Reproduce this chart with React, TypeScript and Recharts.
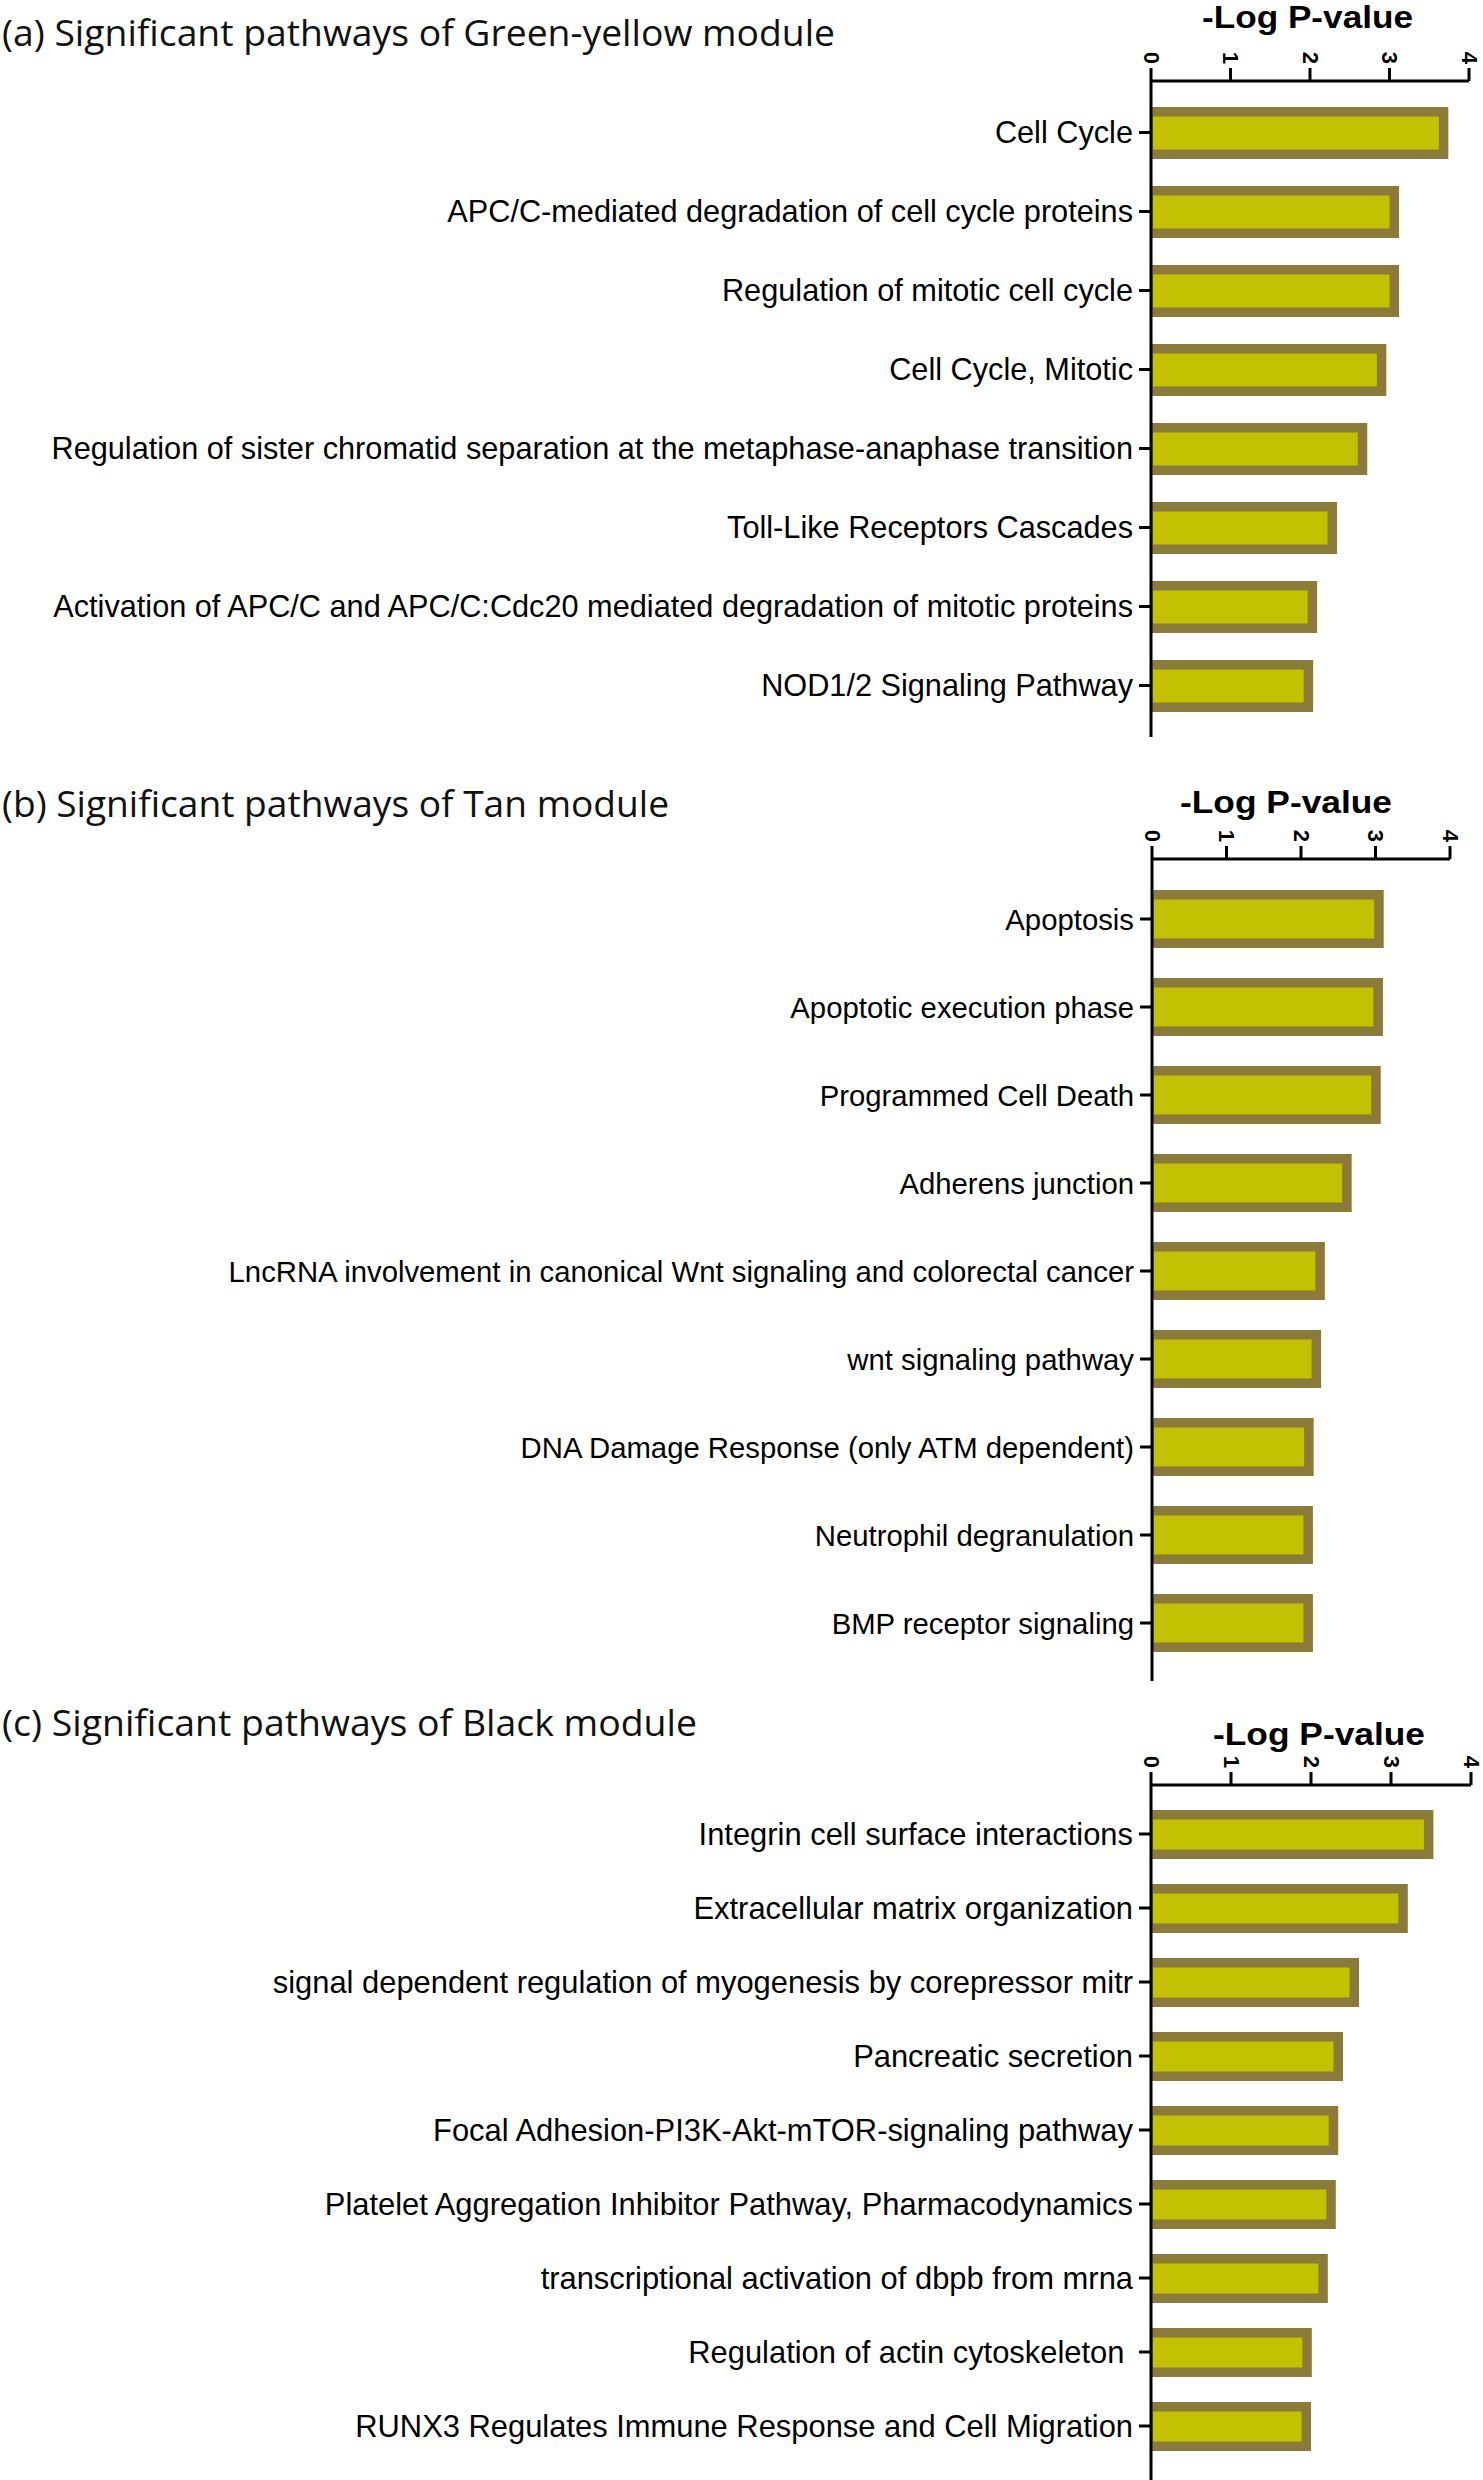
import { BarChart, Bar, XAxis, YAxis } from 'recharts';

const TICKS = [0, 1, 2, 3, 4];

const CATS_A = [
  'Cell Cycle',
  'APC/C-mediated degradation of cell cycle proteins',
  'Regulation of mitotic cell cycle',
  'Cell Cycle, Mitotic',
  'Regulation of sister chromatid separation at the metaphase-anaphase transition',
  'Toll-Like Receptors Cascades',
  'Activation of APC/C and APC/C:Cdc20 mediated degradation of mitotic proteins',
  'NOD1/2 Signaling Pathway',
];
const VALS_A = [3.74, 3.12, 3.12, 2.96, 2.72, 2.34, 2.09, 2.04];

const CATS_B = [
  'Apoptosis',
  'Apoptotic execution phase',
  'Programmed Cell Death',
  'Adherens junction',
  'LncRNA involvement in canonical Wnt signaling and colorectal cancer',
  'wnt signaling pathway',
  'DNA Damage Response (only ATM dependent)',
  'Neutrophil degranulation',
  'BMP receptor signaling',
];
const VALS_B = [3.11, 3.1, 3.07, 2.68, 2.32, 2.27, 2.17, 2.16, 2.16];

const CATS_C = [
  'Integrin cell surface interactions',
  'Extracellular matrix organization',
  'signal dependent regulation of myogenesis by corepressor mitr',
  'Pancreatic secretion',
  'Focal Adhesion-PI3K-Akt-mTOR-signaling pathway',
  'Platelet Aggregation Inhibitor Pathway, Pharmacodynamics',
  'transcriptional activation of dbpb from mrna',
  'Regulation of actin cytoskeleton\u00a0',
  'RUNX3 Regulates Immune Response and Cell Migration',
];
const VALS_C = [3.53, 3.21, 2.6, 2.4, 2.34, 2.31, 2.21, 2.01, 2.0];

const BORDER = '#8b7a3a';
const FILL = '#c3c200';
const LABEL_FONT = '"Liberation Sans", Arial, sans-serif';

function OutlinedBar(props: any) {
  const { x, y, width, height } = props;
  const b = 9.5;
  if (!width || width <= 0) return null;
  return (
    <g>
      <rect x={x} y={y} width={width} height={height} fill={BORDER} />
      <rect x={x + 2} y={y + b} width={Math.max(0, width - 2 - b)} height={Math.max(0, height - 2 * b)} fill={FILL} />
    </g>
  );
}

function XTick(props: any) {
  const { x, y, payload } = props;
  return (
    <text
      x={x}
      y={y}
      transform={`rotate(90, ${x}, ${y})`}
      textAnchor="end"
      dominantBaseline="central"
      fontFamily={LABEL_FONT}
      fontWeight="bold"
      fontSize={22}
      fill="#000"
    >
      {payload.value}
    </text>
  );
}

function makeYTick(fontSize: number) {
  return function YTick(props: any) {
    const { x, y, payload } = props;
    return (
      <text x={x} y={y} textAnchor="end" dominantBaseline="central" fontFamily={LABEL_FONT} fontSize={fontSize} fill="#000">
        {payload.value}
      </text>
    );
  };
}

interface PanelProps {
  cats: string[];
  vals: number[];
  top: number;
  height: number;
  axisHeight: number;
  axisX: number;
  rightMargin: number;
  barSize: number;
  padTop: number;
  padBottom: number;
  fontSize: number;
}

function Panel({ cats, vals, top, height, axisHeight, axisX, rightMargin, barSize, padTop, padBottom, fontSize }: PanelProps) {
  const data = cats.map((name, i) => ({ name, value: vals[i] }));
  return (
    <div style={{ position: 'absolute', left: 0, top, width: 1483, height }}>
      <BarChart
        width={1483}
        height={height}
        data={data}
        layout="vertical"
        margin={{ top: 0, right: rightMargin, bottom: 0, left: 0 }}
        barSize={barSize}
      >
        <Bar dataKey="value" shape={OutlinedBar} isAnimationActive={false} />
        <XAxis
          type="number"
          orientation="top"
          domain={[0, 4]}
          ticks={TICKS}
          height={axisHeight}
          axisLine={{ stroke: '#000', strokeWidth: 3 }}
          tickLine={{ stroke: '#000', strokeWidth: 3 }}
          tickSize={13}
          tickMargin={4}
          tick={<XTick />}
        />
        <YAxis
          type="category"
          dataKey="name"
          width={axisX}
          padding={{ top: padTop, bottom: padBottom }}
          axisLine={{ stroke: '#000', strokeWidth: 3 }}
          tickLine={{ stroke: '#000', strokeWidth: 3 }}
          tickSize={12}
          tickMargin={6}
          interval={0}
          tick={makeYTick(fontSize)}
        />
      </BarChart>
    </div>
  );
}

const TITLE_FONT = '"Open Sans", "Noto Sans", sans-serif';

export default function App() {
  return (
    <div style={{ position: 'absolute', left: 0, top: 0, width: 1483, height: 2480, background: '#fff', overflow: 'hidden' }}>
      <Panel cats={CATS_A} vals={VALS_A} top={0} height={737} axisHeight={81} axisX={1151} rightMargin={14} barSize={52} padTop={12} padBottom={12} fontSize={30.7} />
      <Panel cats={CATS_B} vals={VALS_B} top={780} height={901} axisHeight={79} axisX={1152} rightMargin={33} barSize={58} padTop={16} padBottom={14} fontSize={29.3} />
      <Panel cats={CATS_C} vals={VALS_C} top={1700} height={780} axisHeight={85} axisX={1151} rightMargin={12} barSize={49} padTop={12} padBottom={17} fontSize={30.9} />
      <svg width={1483} height={2480} style={{ position: 'absolute', left: 0, top: 0, pointerEvents: 'none' }}>
        <text x={2} y={46} fontFamily={TITLE_FONT} fontSize={37} textLength={833} lengthAdjust="spacingAndGlyphs" fill="#111">
          (a) Significant pathways of Green-yellow module
        </text>
        <text x={2} y={817} fontFamily={TITLE_FONT} fontSize={37} textLength={667} lengthAdjust="spacingAndGlyphs" fill="#111">
          (b) Significant pathways of Tan module
        </text>
        <text x={2} y={1736} fontFamily={TITLE_FONT} fontSize={37} textLength={695} lengthAdjust="spacingAndGlyphs" fill="#111">
          (c) Significant pathways of Black module
        </text>
        <text x={1202} y={28} fontFamily={LABEL_FONT} fontWeight="bold" fontSize={32} textLength={211} lengthAdjust="spacingAndGlyphs" fill="#000">
          -Log P-value
        </text>
        <text x={1180} y={813} fontFamily={LABEL_FONT} fontWeight="bold" fontSize={32} textLength={212} lengthAdjust="spacingAndGlyphs" fill="#000">
          -Log P-value
        </text>
        <text x={1213} y={1745} fontFamily={LABEL_FONT} fontWeight="bold" fontSize={32} textLength={212} lengthAdjust="spacingAndGlyphs" fill="#000">
          -Log P-value
        </text>
      </svg>
    </div>
  );
}
